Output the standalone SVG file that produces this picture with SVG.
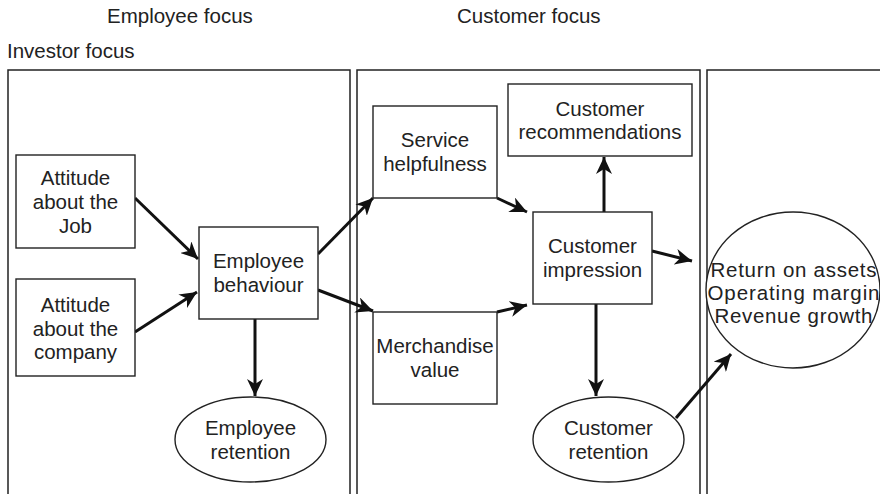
<svg xmlns="http://www.w3.org/2000/svg" width="880" height="494" viewBox="0 0 880 494">
<style>
text{font-family:"Liberation Sans",Arial,Helvetica,sans-serif;font-size:20.5px;fill:#222;}
.c{text-anchor:middle;}
.panel{fill:none;stroke:#222;stroke-width:1.5;}
.box{fill:#fff;stroke:#222;stroke-width:1.4;}
.arr{fill:none;stroke:#111;stroke-width:3;marker-end:url(#ah);}
</style>
<defs>
<marker id="ah" markerUnits="userSpaceOnUse" markerWidth="20" markerHeight="16" refX="17" refY="8" orient="auto">
<path d="M0,0 L17,8 L0,16 L5,8 Z" fill="#111"/>
</marker>
</defs>
<rect width="880" height="494" fill="#fff"/>
<g id="labels">
<text x="107" y="23">Employee focus</text>
<text x="457" y="23">Customer focus</text>
<text x="7" y="58">Investor focus</text>
</g>
<g id="panels">
<path class="panel" d="M8,494 V70 H350 V494"/>
<path class="panel" d="M357,494 V70 H700 V494"/>
<path class="panel" d="M707,494 V70 H882"/>
</g>
<g id="connectors">
<line class="arr" x1="135" y1="198" x2="198" y2="259"/>
<line class="arr" x1="135" y1="332" x2="197" y2="292"/>
<line class="arr" x1="255" y1="319" x2="255" y2="396"/>
<line class="arr" x1="318" y1="254" x2="373" y2="198"/>
<line class="arr" x1="318" y1="290" x2="373" y2="311"/>
<line class="arr" x1="497" y1="198" x2="527" y2="212"/>
<line class="arr" x1="497" y1="312" x2="527" y2="305"/>
<line class="arr" x1="604" y1="212" x2="604" y2="157"/>
<line class="arr" x1="596" y1="304" x2="596" y2="396"/>
<line class="arr" x1="652" y1="251" x2="692" y2="261"/>
<line class="arr" x1="676" y1="418" x2="731" y2="354"/>
</g>
<g id="attitude-job">
<rect class="box" x="16" y="155" width="119" height="93"/>
<text class="c" x="75.5" y="185">Attitude</text>
<text class="c" x="75.5" y="209">about the</text>
<text class="c" x="75.5" y="233">Job</text>
</g>
<g id="attitude-company">
<rect class="box" x="16" y="279" width="119" height="97"/>
<text class="c" x="75.5" y="312">Attitude</text>
<text class="c" x="75.5" y="336">about the</text>
<text class="c" x="75.5" y="359">company</text>
</g>
<g id="employee-behaviour">
<rect class="box" x="199" y="227" width="119" height="92"/>
<text class="c" x="258.5" y="268">Employee</text>
<text class="c" x="258.5" y="292">behaviour</text>
</g>
<g id="employee-retention">
<ellipse class="box" cx="250.5" cy="439.5" rx="75.5" ry="42.5"/>
<text class="c" x="250.5" y="435">Employee</text>
<text class="c" x="250.5" y="459">retention</text>
</g>
<g id="service-helpfulness">
<rect class="box" x="373" y="106" width="124" height="92"/>
<text class="c" x="435" y="147">Service</text>
<text class="c" x="435" y="171">helpfulness</text>
</g>
<g id="merchandise-value">
<rect class="box" x="373" y="312" width="124" height="92"/>
<text class="c" x="435" y="353">Merchandise</text>
<text class="c" x="435" y="377">value</text>
</g>
<g id="customer-recommendations">
<rect class="box" x="508" y="84" width="184" height="72"/>
<text class="c" x="600" y="116">Customer</text>
<text class="c" x="600" y="139">recommendations</text>
</g>
<g id="customer-impression">
<rect class="box" x="533" y="212" width="119" height="92"/>
<text class="c" x="592.5" y="253">Customer</text>
<text class="c" x="592.5" y="277">impression</text>
</g>
<g id="customer-retention">
<ellipse class="box" cx="608.5" cy="439.5" rx="75.5" ry="42.5"/>
<text class="c" x="608.5" y="435">Customer</text>
<text class="c" x="608.5" y="459">retention</text>
</g>
<g id="financial-results">
<ellipse class="box" cx="793" cy="290" rx="87" ry="78"/>
<text class="c" x="793.5" y="277" textLength="166" lengthAdjust="spacing">Return on assets</text>
<text class="c" x="793.5" y="300" textLength="172" lengthAdjust="spacing">Operating margin</text>
<text class="c" x="793.5" y="323" textLength="158" lengthAdjust="spacing">Revenue growth</text>
</g>
</svg>
